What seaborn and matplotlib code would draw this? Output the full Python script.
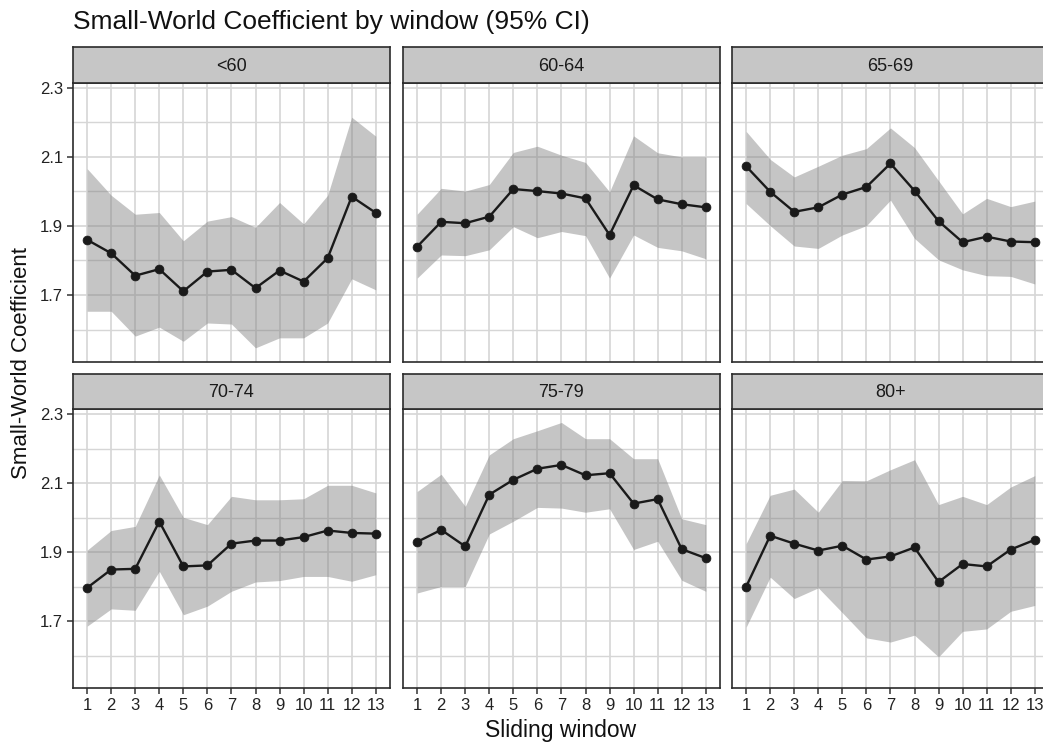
import matplotlib
matplotlib.use("Agg")
import matplotlib.pyplot as plt
import numpy as np
import pandas as pd
import seaborn as sns

# Sliding-window index and age groups
windows = list(range(1, 14))
groups = ["<60", "60-64", "65-69", "70-74", "75-79", "80+"]

# Mean small-world coefficient per window, with 95% CI bounds
swc_lt60 = [1.860, 1.821, 1.756, 1.775, 1.711, 1.768, 1.773, 1.720, 1.771, 1.739, 1.807, 1.985, 1.938]
lo_lt60 = [1.653, 1.653, 1.581, 1.607, 1.566, 1.619, 1.616, 1.547, 1.576, 1.576, 1.619, 1.747, 1.715]
hi_lt60 = [2.066, 1.989, 1.934, 1.939, 1.857, 1.914, 1.927, 1.896, 1.968, 1.906, 1.989, 2.215, 2.160]

swc_60_64 = [1.840, 1.912, 1.908, 1.927, 2.007, 2.001, 1.994, 1.980, 1.874, 2.018, 1.977, 1.963, 1.954]
lo_60_64 = [1.749, 1.816, 1.814, 1.831, 1.898, 1.866, 1.884, 1.872, 1.749, 1.874, 1.838, 1.828, 1.805]
hi_60_64 = [1.934, 2.009, 2.001, 2.020, 2.113, 2.131, 2.105, 2.084, 1.999, 2.161, 2.112, 2.100, 2.100]

swc_65_69 = [2.073, 1.999, 1.941, 1.954, 1.991, 2.013, 2.081, 2.002, 1.914, 1.853, 1.869, 1.855, 1.853]
lo_65_69 = [1.965, 1.901, 1.842, 1.835, 1.874, 1.901, 1.975, 1.864, 1.802, 1.773, 1.756, 1.754, 1.732]
hi_65_69 = [2.174, 2.093, 2.042, 2.073, 2.105, 2.124, 2.184, 2.127, 2.031, 1.935, 1.980, 1.956, 1.972]

swc_70_74 = [1.797, 1.850, 1.852, 1.989, 1.859, 1.862, 1.925, 1.934, 1.934, 1.944, 1.963, 1.956, 1.954]
lo_70_74 = [1.686, 1.736, 1.732, 1.845, 1.719, 1.744, 1.787, 1.814, 1.818, 1.830, 1.830, 1.816, 1.835]
hi_70_74 = [1.906, 1.963, 1.975, 2.124, 2.001, 1.980, 2.062, 2.052, 2.052, 2.055, 2.094, 2.094, 2.072]

swc_75_79 = [1.930, 1.965, 1.917, 2.067, 2.110, 2.142, 2.153, 2.123, 2.129, 2.041, 2.054, 1.909, 1.883]
lo_75_79 = [1.782, 1.801, 1.801, 1.953, 1.990, 2.030, 2.028, 2.016, 2.026, 1.908, 1.932, 1.819, 1.787]
hi_75_79 = [2.076, 2.126, 2.033, 2.182, 2.229, 2.252, 2.276, 2.229, 2.229, 2.171, 2.171, 1.997, 1.980]

swc_80p = [1.800, 1.948, 1.925, 1.905, 1.919, 1.879, 1.888, 1.914, 1.814, 1.866, 1.859, 1.908, 1.936]
lo_80p = [1.683, 1.828, 1.766, 1.797, 1.725, 1.652, 1.640, 1.660, 1.597, 1.671, 1.678, 1.729, 1.746]
hi_80p = [1.925, 2.065, 2.083, 2.016, 2.108, 2.107, 2.139, 2.168, 2.038, 2.062, 2.038, 2.089, 2.122]

y_major = [1.7, 1.9, 2.1, 2.3]
y_minor = [1.6, 1.8, 2.0, 2.2]

means = [swc_lt60, swc_60_64, swc_65_69, swc_70_74, swc_75_79, swc_80p]
lows = [lo_lt60, lo_60_64, lo_65_69, lo_70_74, lo_75_79, lo_80p]
highs = [hi_lt60, hi_60_64, hi_65_69, hi_70_74, hi_75_79, hi_80p]

frames = []
for g, m, lo, hi in zip(groups, means, lows, highs):
    frames.append(pd.DataFrame({"group": g, "window": windows, "swc": m, "lo": lo, "hi": hi}))
df = pd.concat(frames, ignore_index=True)

sns.set_theme(style="white")
plt.rcParams["font.family"] = ["Liberation Sans", "DejaVu Sans"]

W, H = 1043, 743
fig = plt.figure(figsize=(W / 100, H / 100), dpi=100)
fig.patch.set_facecolor("white")

col_left = [72.7, 402.7, 731.7]
row_top = [82.7, 409.0]
panel_w, panel_h, strip_h = 317.5, 279.3, 35.5

border = "#2b2b2b"
grid_col = "#d6d6d6"
ink = "#1a1a1a"

for i, g in enumerate(groups):
    r, c = divmod(i, 3)
    left, top = col_left[c], row_top[r]
    ax = fig.add_axes([left / W, 1 - (top + panel_h) / H, panel_w / W, panel_h / H])
    ax.set_facecolor("white")
    ax.set_axisbelow(True)
    sub = df[df["group"] == g]

    ax.fill_between(sub["window"], sub["lo"], sub["hi"], color="#7f7f7f", alpha=0.45, lw=0, zorder=1)
    sns.lineplot(data=sub, x="window", y="swc", ax=ax, color=ink, linewidth=1.7,
                 marker="o", markersize=6.4, markeredgecolor=ink, markeredgewidth=0.5,
                 errorbar=None, zorder=3)

    ax.set_xlim(0.4, 13.6)
    ax.set_ylim(1.506, 2.315)
    ax.set_xticks(windows)
    ax.set_yticks(y_major)
    ax.set_yticks(y_minor, minor=True)
    ax.grid(which="major", color=grid_col, linewidth=1.2)
    ax.grid(which="minor", axis="y", color=grid_col, linewidth=1.0)
    ax.set_xlabel("")
    ax.set_ylabel("")
    ax.tick_params(which="minor", length=0)
    ax.tick_params(axis="both", which="major", length=4, width=1.1, color="#333333",
                   labelsize=12, labelcolor="#222222", pad=3)
    ax.tick_params(axis="y", left=(c == 0), labelleft=(c == 0))
    ax.tick_params(axis="x", bottom=(r == 1), labelbottom=(r == 1))
    ax.set_yticklabels([f"{v:.1f}" for v in y_major] if c == 0 else [])
    for sp in ax.spines.values():
        sp.set_color(border)
        sp.set_linewidth(1.2)
        sp.set_visible(True)

    # facet strip
    sax = fig.add_axes([left / W, 1 - top / H, panel_w / W, strip_h / H])
    sax.set_facecolor("#c6c6c6")
    sax.set_xticks([])
    sax.set_yticks([])
    for sp in sax.spines.values():
        sp.set_color(border)
        sp.set_linewidth(1.2)
        sp.set_visible(True)
    sax.text(0.5, 0.47, g, ha="center", va="center", fontsize=13, color="#1a1a1a",
             transform=sax.transAxes)

fig.text(72.7 / W, 1 - 29.5 / H, "Small-World Coefficient by window (95% CI)",
         ha="left", va="baseline", fontsize=19, color="#111111")
fig.text(561 / W, 1 - 737 / H, "Sliding window", ha="center", va="baseline",
         fontsize=16.5, color="#111111")
fig.text(22 / W, 1 - 363 / H, "Small-World Coefficient", ha="center", va="center",
         rotation=90, fontsize=16, color="#111111")

fig.savefig("out.png", dpi=100, facecolor="white")
